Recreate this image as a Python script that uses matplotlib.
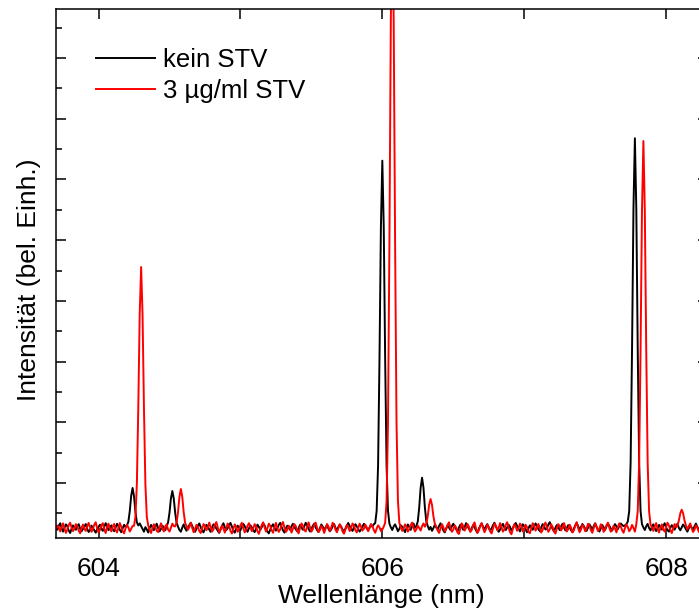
import numpy as np
import matplotlib
matplotlib.use("Agg")
import matplotlib.pyplot as plt
from matplotlib.ticker import MultipleLocator, FixedLocator, FixedFormatter

plt.rcParams['font.family'] = ['Liberation Sans', 'DejaVu Sans']

# Spectra sampled on a uniform wavelength grid (nm)
wl_start = 603.70
wl_step = 0.01

kein_stv = [
    275, 231, 298, 336, 254, 198, 262, 318, 287, 214, 176, 248, 301, 266, 229, 283, 322, 251, 203, 240,
    286, 323, 244, 193, 226, 297, 262, 219, 181, 239, 279, 312, 247, 211, 272, 338, 291, 222, 258, 302,
    236, 205, 268, 327, 289, 228, 189, 254, 311, 273, 300, 360, 535, 790, 918, 780, 525, 350, 300, 335,
    290, 248, 197, 273, 236, 184, 257, 309, 271, 224, 282, 329, 256, 204, 243, 296, 268, 221, 290, 350,
    510, 745, 868, 745, 510, 345, 280, 226, 197, 265, 318, 254, 213, 276, 305, 345, 292, 241, 196, 247,
    296, 333, 271, 218, 187, 249, 311, 283, 234, 195, 268, 320, 299, 249, 212, 178, 241, 293, 337, 270,
    225, 256, 306, 342, 281, 214, 182, 245, 297, 267, 223, 276, 326, 288, 237, 196, 252, 303, 270, 221,
    190, 247, 314, 278, 229, 271, 335, 302, 238, 201, 170, 232, 285, 320, 263, 215, 255, 308, 343, 276,
    219, 183, 250, 297, 264, 228, 288, 328, 279, 237, 204, 256, 309, 268, 230, 290, 345, 294, 246, 201,
    243, 293, 331, 270, 224, 192, 254, 316, 281, 231, 266, 307, 249, 203, 236, 288, 324, 262, 218, 275,
    315, 278, 231, 198, 248, 300, 341, 289, 246, 210, 263, 321, 285, 239, 200, 231, 281, 327, 294, 251,
    222, 268, 312, 279, 320, 340, 540, 1284, 3040, 5220, 6310, 5220, 3040, 1284, 540, 330, 270, 226, 285, 318,
    264, 205, 244, 303, 280, 234, 190, 253, 316, 271, 228, 286, 332, 262, 290, 367, 596, 921, 1087, 921,
    596, 367, 290, 232, 276, 212, 258, 309, 268, 235, 292, 336, 275, 218, 186, 250, 301, 265, 227, 286,
    328, 290, 240, 201, 266, 313, 277, 229, 270, 338, 295, 247, 209, 254, 305, 268, 221, 180, 243, 292,
    332, 273, 235, 285, 322, 262, 216, 250, 303, 345, 284, 238, 196, 232, 290, 326, 266, 225, 268, 311,
    275, 214, 257, 306, 341, 292, 245, 203, 266, 320, 286, 235, 188, 254, 303, 271, 230, 280, 334, 290,
    240, 206, 270, 322, 284, 234, 252, 316, 354, 290, 246, 200, 262, 307, 273, 224, 285, 328, 266, 219,
    256, 305, 269, 222, 190, 250, 301, 343, 286, 238, 273, 324, 290, 246, 212, 265, 318, 279, 233, 292,
    336, 277, 231, 200, 254, 307, 269, 226, 287, 330, 294, 250, 216, 273, 322, 286, 240, 290, 333, 310,
    290, 300, 320, 365, 538, 1347, 3211, 5524, 6680, 5524, 3211, 1347, 538, 320, 268, 225, 287, 326, 258, 219,
    275, 318, 252, 208, 256, 309, 271, 232, 290, 337, 267, 223, 199, 263, 305, 269, 231, 284, 329, 261,
    221, 270, 316, 280, 239, 198, 254, 303, 267, 228, 286, 331, 278, 232, 205, 256, 307, 271, 237, 288,
]

stv_3 = [
    231, 300, 266, 202, 274, 335, 247, 178, 234, 308, 346, 267, 207, 252, 322, 281, 216, 172, 258, 316,
    246, 210, 282, 343, 274, 195, 243, 312, 353, 256, 184, 229, 298, 338, 241, 175, 270, 330, 254, 203,
    280, 326, 228, 186, 264, 340, 279, 210, 170, 250, 311, 268, 200, 245, 290, 295, 444, 986, 2234, 3783,
    4558, 3783, 2234, 986, 444, 300, 226, 177, 255, 320, 274, 213, 192, 270, 336, 252, 201, 283, 318, 232,
    200, 262, 330, 288, 285, 345, 520, 772, 901, 772, 520, 345, 285, 228, 275, 345, 262, 190, 238, 311,
    271, 210, 176, 253, 323, 293, 222, 262, 347, 279, 199, 236, 311, 356, 268, 188, 229, 300, 250, 182,
    256, 332, 292, 211, 168, 244, 318, 271, 196, 236, 303, 345, 259, 186, 226, 294, 338, 274, 206, 250,
    322, 282, 205, 162, 241, 306, 352, 270, 200, 254, 330, 294, 222, 180, 268, 343, 255, 194, 232, 315,
    357, 265, 193, 229, 297, 256, 183, 247, 321, 289, 214, 171, 262, 334, 297, 224, 201, 280, 351, 270,
    198, 241, 312, 348, 261, 191, 225, 294, 252, 177, 244, 324, 285, 209, 265, 345, 305, 230, 188, 253,
    318, 277, 200, 165, 238, 309, 270, 208, 256, 334, 294, 223, 186, 259, 330, 282, 216, 247, 315, 268,
    205, 256, 324, 288, 224, 180, 250, 302, 271, 208, 233, 282, 345, 706, 1997, 4968, 8656, 10500, 8656, 4968,
    1997, 706, 345, 270, 212, 250, 318, 282, 199, 236, 309, 348, 266, 201, 238, 297, 259, 216, 287, 334,
    280, 330, 452, 640, 736, 640, 452, 330, 280, 218, 178, 250, 322, 274, 203, 241, 312, 352, 262, 196,
    229, 302, 266, 183, 160, 253, 335, 291, 216, 259, 324, 282, 193, 226, 306, 351, 253, 180, 218, 296,
    340, 256, 189, 238, 315, 274, 204, 169, 247, 329, 297, 222, 262, 340, 272, 199, 232, 311, 354, 261,
    190, 155, 246, 320, 280, 213, 253, 331, 294, 201, 238, 313, 270, 196, 173, 256, 338, 289, 215, 266,
    325, 253, 183, 226, 305, 349, 269, 196, 235, 320, 278, 206, 167, 250, 322, 289, 218, 263, 340, 274,
    201, 238, 313, 265, 186, 220, 300, 355, 256, 189, 232, 311, 274, 204, 247, 329, 295, 223, 180, 259,
    332, 280, 207, 244, 320, 271, 195, 236, 305, 347, 262, 198, 229, 296, 253, 186, 271, 335, 289, 222,
    180, 256, 320, 274, 205, 241, 309, 259, 198, 320, 536, 1339, 3189, 5486, 6634, 5486, 3189, 1339, 536, 320,
    270, 210, 287, 339, 248, 185, 265, 318, 232, 199, 277, 345, 297, 224, 175, 253, 323, 270, 300, 380,
    500, 560, 500, 380, 300, 235, 289, 334, 256, 193, 229, 303, 265, 201, 167, 250, 320, 279, 213, 259,
]

series_labels = ['kein STV', '3 µg/ml STV']
series_colors = ['black', 'red']

x_ticks = [604, 605, 606, 607, 608]
x_ticklabels = ['604', '', '606', '', '608']

wavelength = wl_start + wl_step * np.arange(len(kein_stv))

fig = plt.figure(figsize=(6.99, 6.11), dpi=100)
ax = fig.add_axes([0.0801, 0.1195, 0.9321, 0.8658])

for values, label, color in zip([kein_stv, stv_3], series_labels, series_colors):
    ax.plot(wavelength, values, color=color, lw=1.4, label=label)

ax.set_xlim(603.70, 608.292)
ax.set_ylim(94, 8809)

ax.xaxis.set_major_locator(FixedLocator(x_ticks))
ax.xaxis.set_major_formatter(FixedFormatter(x_ticklabels))
ax.yaxis.set_major_locator(MultipleLocator(1000))
ax.yaxis.set_minor_locator(MultipleLocator(500))

ax.tick_params(which='both', direction='in', top=True, right=True,
               labelleft=False, width=1.1)
ax.tick_params(which='major', length=7.5, labelsize=19, pad=14)
ax.tick_params(which='minor', length=4.3)
for s in ax.spines.values():
    s.set_linewidth(1.1)

ax.set_xlabel('Wellenlänge (nm)', fontsize=19, labelpad=2)
ax.set_ylabel('Intensität (bel. Einh.)', fontsize=19)
ax.yaxis.set_label_coords(-0.023, 0.488)

ax.legend(loc='upper left', bbox_to_anchor=(0.0614, 0.926), frameon=False,
          fontsize=18.5, handlelength=2.3, handletextpad=0.3,
          labelspacing=0.28, borderpad=0, borderaxespad=0)

fig.savefig('out.png', dpi=100)
